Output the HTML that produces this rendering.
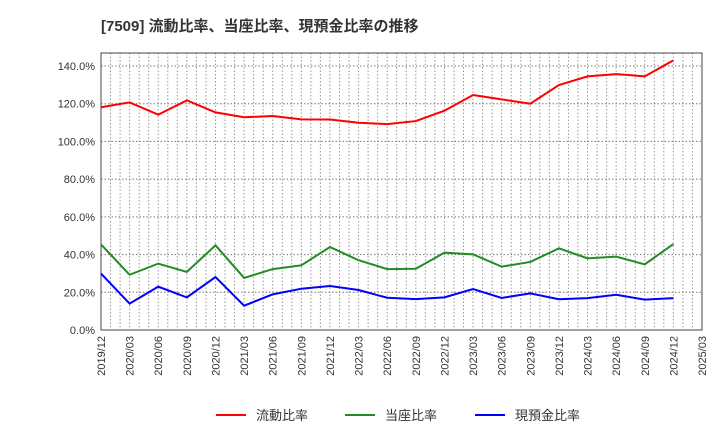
<!DOCTYPE html>
<html><head><meta charset="utf-8"><style>
body{margin:0;background:#fff;font-family:"Liberation Sans","Noto Sans CJK JP",sans-serif}
svg text{font-family:"Liberation Sans","Noto Sans CJK JP",sans-serif}
</style></head><body>
<svg id="c" width="720" height="440" xmlns="http://www.w3.org/2000/svg">
<text x="101" y="31" font-size="15" font-weight="bold" fill="#333">[7509]  流動比率、当座比率、現預金比率の推移</text>
<g id="grid"></g><g id="axes"></g><g id="series"></g><g id="legend"></g>
</svg>
<script>
const xLabels=["2019/12","2020/03","2020/06","2020/09","2020/12","2021/03","2021/06","2021/09","2021/12","2022/03","2022/06","2022/09","2022/12","2023/03","2023/06","2023/09","2023/12","2024/03","2024/06","2024/09","2024/12","2025/03"];
const yTicks=[0,20,40,60,80,100,120,140];
const currentRatio=[118.1,120.7,114.2,121.8,115.4,112.8,113.5,111.7,111.6,109.9,109.2,110.8,116.3,124.6,122.3,120.0,129.9,134.5,135.7,134.5,143.0];
const quickRatio=[45.4,29.3,35.2,30.8,44.9,27.6,32.3,34.3,44.0,37.0,32.3,32.5,41.0,40.1,33.6,36.1,43.3,38.0,38.9,34.8,45.6];
const cashRatio=[29.9,14.0,23.0,17.3,28.1,12.9,18.9,21.9,23.3,21.2,17.1,16.4,17.3,21.7,17.0,19.4,16.3,16.9,18.7,16.1,16.9];
const seriesNames=["流動比率","当座比率","現預金比率"];
const colors=["#ff0000","#228b22","#0000ff"];
const L=101,R=702,T=53,B=330;
const months=63;
const xM=m=>L+(R-L)*m/months;
const xQ=i=>xM(i*3);
const y=v=>B-(B-66)*v/140;
const NS="http://www.w3.org/2000/svg";
function mk(tag,attrs,parent){const e=document.createElementNS(NS,tag);for(const k in attrs)e.setAttribute(k,attrs[k]);parent.appendChild(e);return e;}
const grid=document.getElementById('grid'),axes=document.getElementById('axes'),ser=document.getElementById('series'),leg=document.getElementById('legend');
for(let m=1;m<months;m++){const g=mk('line',{x1:xM(m),x2:xM(m),y1:T,y2:B,stroke:'#999','stroke-dasharray':'1.5,2','stroke-width':1},grid);

}
yTicks.forEach(v=>{if(v>0){const g=mk('line',{x1:L,x2:R,y1:y(v),y2:y(v),stroke:'#777','stroke-dasharray':'1.5,2','stroke-width':1},grid);

}
const t=mk('text',{x:L-6,y:y(v)+4,'text-anchor':'end','font-size':11,fill:'#333'},axes);t.textContent=v.toFixed(1)+'%';

});
const fr=mk('rect',{x:L,y:T,width:R-L,height:B-T,fill:'none',stroke:'#444','stroke-width':1},axes);


xLabels.forEach((s,i)=>{const x=xQ(i);const t=mk('text',{x:x+4,y:B+6,'text-anchor':'end','font-size':11,fill:'#333',transform:`rotate(-90 ${x+4} ${B+6})`},axes);t.textContent=s;

});
[currentRatio,quickRatio,cashRatio].forEach((d,si)=>{const p=mk('polyline',{points:d.map((v,i)=>xQ(i)+','+y(v)).join(' '),fill:'none',stroke:colors[si],'stroke-width':2},ser);

});
const lx=[216,345,475];
seriesNames.forEach((n,i)=>{const l=mk('line',{x1:lx[i],x2:lx[i]+30,y1:415,y2:415,stroke:colors[i],'stroke-width':2},leg);


const t=mk('text',{x:lx[i]+40,y:420,'font-size':13,fill:'#333'},leg);t.textContent=n;

});
</script>
</body></html>
